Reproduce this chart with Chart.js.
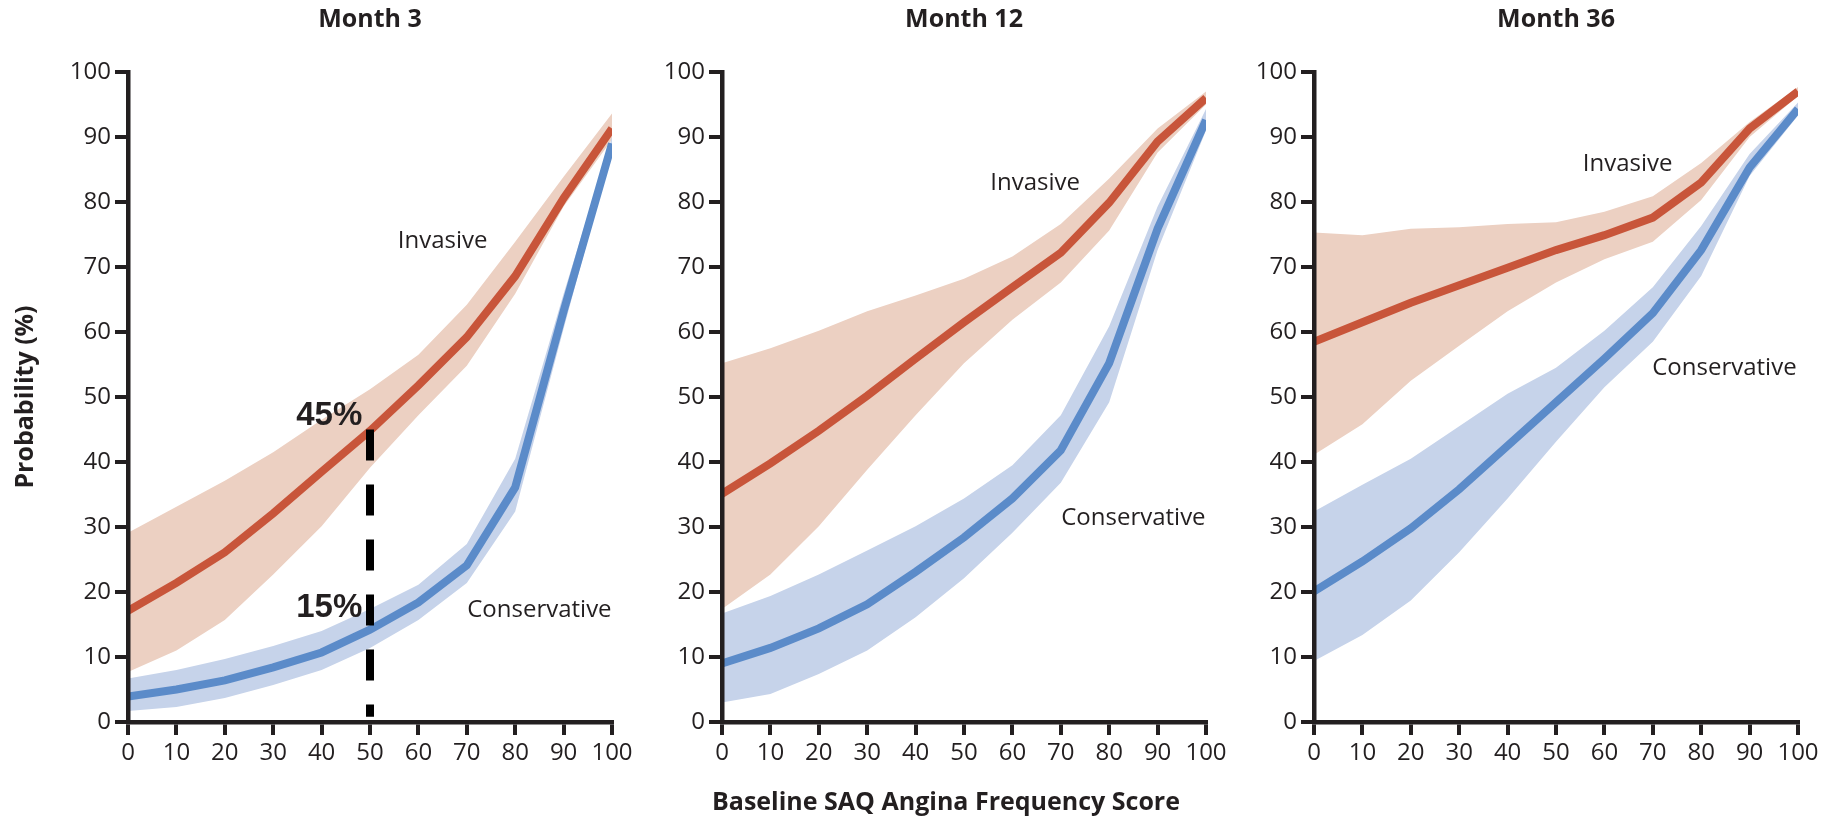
<!DOCTYPE html>
<html>
<head>
<meta charset="utf-8">
<script src="https://cdn.jsdelivr.net/npm/chart.js@4.4.0/dist/chart.umd.min.js"></script>
<style>
  body { margin: 0; background: #fff; width: 1826px; height: 816px; position: relative; overflow: hidden; }
  canvas { position: absolute; top: 0; }
  #xTitle {
    position: absolute; left: 946px; top: 800px; transform: translate(-50%, -50%);
    white-space: nowrap; font: bold 25px 'Open Sans', sans-serif; color: #231f20;
  }
</style>
</head>
<body>
<canvas id="m3" width="640" height="816" style="left:0px"></canvas>
<canvas id="m12" width="594" height="816" style="left:640px"></canvas>
<canvas id="m36" width="592" height="816" style="left:1234px"></canvas>
<div id="xTitle">Baseline SAQ Angina Frequency Score</div>

<script>
// baseline SAQ angina frequency score (x)
const scores = [0, 10, 20, 30, 40, 50, 60, 70, 80, 90, 100];

// Month 3 (probability %)
const m3Invasive     = [17.1, 21.4, 26.1, 32.1, 38.5, 44.8, 51.8, 59.2, 68.6, 80.6, 91.3];
const m3InvasiveHigh = [29.1, 33.1, 37.1, 41.5, 46.5, 51.2, 56.5, 64.2, 73.9, 83.9, 93.6];
const m3InvasiveLow  = [7.7, 11.0, 15.7, 22.7, 30.1, 39.1, 47.2, 54.8, 65.9, 79.3, 89.6];
const m3Conserv      = [3.9, 5.0, 6.4, 8.4, 10.7, 14.2, 18.4, 24.1, 36.1, 63.2, 89.0];
const m3ConservHigh  = [6.7, 8.0, 9.7, 11.7, 14.0, 17.4, 21.1, 27.4, 40.5, 65.9, 90.0];
const m3ConservLow   = [1.7, 2.3, 3.7, 5.7, 8.0, 11.4, 15.7, 21.4, 32.4, 60.5, 88.0];

// Month 12
const m12Invasive     = [35.1, 39.8, 44.8, 50.2, 55.9, 61.5, 66.9, 72.2, 79.9, 89.3, 96.0];
const m12InvasiveHigh = [55.2, 57.5, 60.2, 63.2, 65.6, 68.2, 71.6, 76.6, 83.6, 91.3, 97.0];
const m12InvasiveLow  = [17.4, 22.7, 30.1, 38.8, 47.2, 55.2, 61.9, 67.6, 75.6, 87.6, 95.0];
const m12Conserv      = [9.0, 11.4, 14.4, 18.1, 23.1, 28.4, 34.4, 41.8, 55.2, 75.9, 92.6];
const m12ConservHigh  = [16.7, 19.4, 22.7, 26.4, 30.1, 34.4, 39.5, 47.2, 60.9, 79.3, 94.3];
const m12ConservLow   = [3.0, 4.3, 7.4, 11.0, 16.1, 22.1, 29.1, 36.8, 49.2, 72.6, 91.0];

// Month 36
const m36Invasive     = [58.5, 61.5, 64.5, 67.2, 69.9, 72.6, 74.9, 77.6, 83.0, 91.3, 97.0];
const m36InvasiveHigh = [75.3, 74.9, 75.9, 76.1, 76.6, 76.9, 78.5, 80.9, 86.0, 92.3, 97.7];
const m36InvasiveLow  = [41.1, 45.8, 52.5, 57.9, 63.2, 67.6, 71.2, 73.9, 80.3, 90.0, 96.3];
const m36Conserv      = [20.1, 24.7, 29.8, 35.8, 42.5, 49.2, 55.9, 62.9, 72.6, 85.3, 94.3];
const m36ConservHigh  = [32.4, 36.5, 40.5, 45.5, 50.5, 54.5, 60.2, 66.9, 76.3, 87.4, 95.3];
const m36ConservLow   = [9.4, 13.4, 18.7, 26.1, 34.4, 43.1, 51.5, 58.5, 68.6, 84.0, 93.3];

// dashed marker in the Month 3 panel
const markerScore = [50, 50];
const markerProb  = [45, 0.8];

const tickValues = [0, 10, 20, 30, 40, 50, 60, 70, 80, 90, 100];

const INK = '#231f20';
const RED = '#c8553a', RED_BAND = '#ecd0c2';
const BLUE = '#5b8bc9', BLUE_BAND = '#c6d3ea';
const FONT = "'Open Sans', sans-serif";

Chart.defaults.font.family = FONT;
Chart.defaults.color = INK;

const pts = (xs, ys) => xs.map((x, i) => ({ x: x, y: ys[i] }));

// draws the curve names / percentages at data coordinates
function textPlugin(items) {
  return {
    id: 'textLabels',
    afterDatasetsDraw(chart) {
      const { ctx, scales } = chart;
      items.forEach(it => {
        ctx.save();
        ctx.font = it.font;
        ctx.fillStyle = INK;
        ctx.textAlign = it.align || 'center';
        ctx.textBaseline = 'middle';
        ctx.fillText(it.text, scales.x.getPixelForValue(it.x), scales.y.getPixelForValue(it.y));
        ctx.restore();
      });
    }
  };
}

function axis(extra) {
  return Object.assign({
    type: 'linear',
    min: 0,
    max: 100,
    afterBuildTicks: s => { s.ticks = tickValues.map(v => ({ value: v })); },
    // z > 0: axis line and ticks go on top of the bands, as in the figure
    grid: { z: 1, drawOnChartArea: false, drawTicks: true, tickLength: 13, lineWidth: 4, color: INK },
    border: { z: 1, display: true, width: 4.5, color: INK },
    ticks: { font: { size: 24 }, color: INK, padding: 4, maxRotation: 0, autoSkip: false }
  }, extra);
}

function makePanel(id, title, d, yWidth, showYTitle, labels, marker) {
  const datasets = [
    { data: pts(scores, d.invLow), borderWidth: 0, pointRadius: 0, fill: false, order: 5 },
    { data: pts(scores, d.invHigh), borderWidth: 0, pointRadius: 0, fill: '-1', backgroundColor: RED_BAND, order: 5 },
    { data: pts(scores, d.conLow), borderWidth: 0, pointRadius: 0, fill: false, order: 4 },
    { data: pts(scores, d.conHigh), borderWidth: 0, pointRadius: 0, fill: '-1', backgroundColor: BLUE_BAND, order: 4 },
    { data: pts(scores, d.con), borderColor: BLUE, borderWidth: 8, pointRadius: 0, fill: false, order: 2 },
    { data: pts(scores, d.inv), borderColor: RED, borderWidth: 8, pointRadius: 0, fill: false, order: 1 }
  ];
  if (marker) {
    datasets.push({
      data: pts(markerScore, markerProb), borderColor: '#000', borderWidth: 8,
      borderDash: [31, 24], borderCapStyle: 'butt', pointRadius: 0, fill: false, order: 0
    });
  }

  new Chart(document.getElementById(id), {
    type: 'line',
    data: { datasets: datasets },
    options: {
      responsive: false,
      animation: false,
      layout: { padding: { left: 0, right: 28, top: 0, bottom: 0 } },
      plugins: {
        legend: { display: false },
        tooltip: { enabled: false },
        title: {
          display: true, text: title, fullSize: false, color: INK,
          font: { size: 25, weight: 'bold' }, padding: { top: 5, bottom: 37 }
        }
      },
      scales: {
        x: axis({ position: 'bottom', afterFit: s => { s.height = 94; } }),
        y: axis({
          position: 'left',
          afterFit: s => { s.width = yWidth; },
          title: {
            display: showYTitle, text: 'Probability (%)', color: INK,
            font: { size: 25, weight: 'bold' }, padding: { top: 11, bottom: 0 }
          }
        })
      }
    },
    plugins: [textPlugin(labels)]
  });
}

const nameFont = '24px ' + FONT;
const pctFont = "bold 33px 'Liberation Sans', Arial, sans-serif";

makePanel('m3', 'Month 3', {
  inv: m3Invasive, invHigh: m3InvasiveHigh, invLow: m3InvasiveLow,
  con: m3Conserv, conHigh: m3ConservHigh, conLow: m3ConservLow
}, 128, true, [
  { text: 'Invasive', x: 65, y: 74, font: nameFont },
  { text: 'Conservative', x: 85, y: 17.2, font: nameFont },
  { text: '45%', x: 48.4, y: 47.1, font: pctFont, align: 'right' },
  { text: '15%', x: 48.4, y: 17.5, font: pctFont, align: 'right' }
], true);

makePanel('m12', 'Month 12', {
  inv: m12Invasive, invHigh: m12InvasiveHigh, invLow: m12InvasiveLow,
  con: m12Conserv, conHigh: m12ConservHigh, conLow: m12ConservLow
}, 82, false, [
  { text: 'Invasive', x: 64.7, y: 82.9, font: nameFont },
  { text: 'Conservative', x: 85, y: 31.4, font: nameFont }
], false);

makePanel('m36', 'Month 36', {
  inv: m36Invasive, invHigh: m36InvasiveHigh, invLow: m36InvasiveLow,
  con: m36Conserv, conHigh: m36ConservHigh, conLow: m36ConservLow
}, 80, false, [
  { text: 'Invasive', x: 64.8, y: 85.8, font: nameFont },
  { text: 'Conservative', x: 84.8, y: 54.4, font: nameFont }
], false);
</script>
</body>
</html>
